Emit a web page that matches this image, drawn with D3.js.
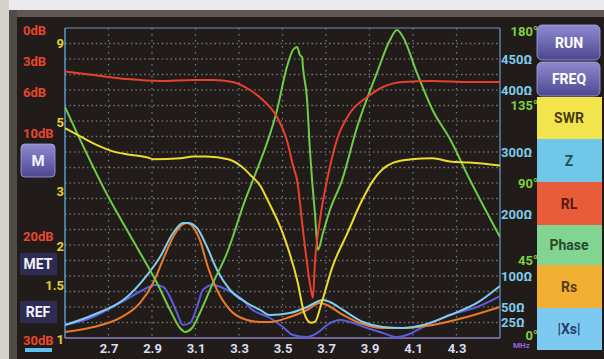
<!DOCTYPE html>
<html><head><meta charset="utf-8">
<script src="https://cdn.jsdelivr.net/npm/d3@7"></script>
<style>body{margin:0;background:#1f1a18;overflow:hidden}svg{display:block}text{font-family:Roboto,"DejaVu Sans",sans-serif}</style>
</head><body><svg id="c" width="604" height="359"></svg>
<script>
// ---------- data (MHz and values) ----------
const xTicks = [2.7, 2.9, 3.1, 3.3, 3.5, 3.7, 3.9, 4.1, 4.3];
const rlTicks = [0, 3, 6, 10, 20, 30];
const swrTicks = [9, 5, 3, 2, 1.5, 1];
const ohmTicks = [450, 400, 300, 200, 100, 50, 25];
const phaseTicks = [180, 135, 90, 45, 0];
const rightButtons = ["RUN", "FREQ", "SWR", "Z", "RL", "Phase", "Rs", "|Xs|"];
const leftLabels = ["MET", "REF"];

const swrFreq = [2.50,2.57,2.66,2.72,2.79,2.88,2.91,3.03,3.09,3.15,3.25,3.31,3.35,3.40,3.43,3.50,3.57,3.60,3.63,3.65,3.68,3.73,3.80,3.86,3.92,3.96,4.01,4.09,4.19,4.27,4.36,4.50];
const swrVal  = [4.75,4.47,4.15,4.00,3.91,3.82,3.77,3.80,3.85,3.85,3.77,3.58,3.37,3.08,2.80,2.19,1.51,1.20,1.12,1.13,1.30,1.70,2.19,2.73,3.25,3.50,3.68,3.77,3.80,3.71,3.68,3.60];

const rlFreq = [2.50,2.63,2.785,2.937,3.089,3.18,3.27,3.35,3.41,3.475,3.52,3.55,3.567,3.594,3.617,3.631,3.640,3.649,3.672,3.705,3.75,3.81,3.89,3.962,4.054,4.19,4.36,4.50];
const rlVal  = [4.2,4.55,4.94,5.13,5.03,5.03,5.23,6.0,6.97,8.62,10.84,13.46,14.71,19.55,23.43,25.36,26.1,22.75,18.59,14.71,10.84,8.23,6.68,5.71,5.23,5.13,5.23,5.23];

const phFreq = [2.50,2.707,2.785,2.859,2.923,2.983,3.029,3.052,3.084,3.12,3.18,3.245,3.328,3.364,3.475,3.52,3.548,3.567,3.58,3.59,3.594,3.613,3.626,3.636,3.649,3.663,3.686,3.718,3.774,3.843,3.934,3.994,4.026,4.054,4.118,4.19,4.27,4.362,4.50];
const phVal  = [134.1,80.1,62.7,46.4,31.9,16.3,5.8,3.5,5.8,14.5,31.9,49.4,80.1,91.7,132.4,157.3,167.2,169.0,164.3,163.1,157.3,138.2,109.2,91.7,72.6,51.1,61.0,74.3,91.7,122.5,153.9,173.0,178.8,174.8,153.9,132.4,115.5,91.7,58.6];

const rsFreq = [2.50,2.63,2.753,2.845,2.905,2.95,2.997,3.038,3.061,3.089,3.12,3.157,3.199,3.259,3.337,3.397,3.443,3.534,3.613,3.672,3.705,3.764,3.856,3.962,4.054,4.192,4.348,4.50];
const rsVal  = [9.7,17.7,32.3,56.5,88.7,125.8,162.9,182.3,185.5,179.0,158.1,114.5,77.4,45.2,29.0,25.8,25.8,33.9,45.2,56.5,53.2,40.3,24.2,16.1,16.1,21.0,33.9,50.0];

const zFreq = [2.50,2.629,2.785,2.859,2.937,2.997,3.043,3.066,3.107,3.153,3.199,3.259,3.337,3.397,3.443,3.534,3.613,3.686,3.718,3.778,3.87,3.962,4.054,4.146,4.27,4.394,4.50];
const zVal  = [21.0,37.1,66.1,93.5,130.6,169.4,185.5,185.5,177.4,146.8,109.7,77.4,56.5,45.2,37.1,40.3,50.0,61.3,58.1,45.2,25.8,17.7,16.1,21.0,37.1,56.5,83.9];

const xsFreq = [2.50,2.629,2.753,2.859,2.914,2.951,2.983,3.015,3.043,3.075,3.107,3.134,3.18,3.245,3.318,3.351,3.443,3.502,3.548,3.613,3.659,3.705,3.764,3.81,3.889,3.962,4.026,4.072,4.146,4.27,4.394,4.50];
const xsVal  = [21.0,33.9,56.5,77.4,85.5,82.3,66.1,40.3,21.0,24.2,50.0,77.4,85.5,77.4,61.3,48.4,32.3,17.7,4.8,1.6,8.1,21.0,29.0,25.8,16.1,8.1,1.6,4.8,17.7,37.1,50.0,67.7];

// ---------- layout ----------
const L = 65, R = 500, T = 28, B = 338;
const svg = d3.select("#c");
const x = d3.scaleLinear([2.5, 4.5], [L, R]);
const ySwr = d3.scaleLog([1, 10], [B, T]);
const yRl = d3.scaleLinear([0, 30], [T, B]);
const yOhm = d3.scaleLinear([0, 500], [B, T]);
const yPh = d3.scaleLinear([0, 180], [B, T]);

const defs = svg.append("defs");
const gp = defs.append("linearGradient").attr("id", "btn").attr("x1", 0).attr("y1", 0).attr("x2", 0).attr("y2", 1);
gp.append("stop").attr("offset", "0%").attr("stop-color", "#8f8ad0");
gp.append("stop").attr("offset", "100%").attr("stop-color", "#4d4790");
defs.append("clipPath").attr("id", "plot").append("rect").attr("x", L).attr("y", T - 2).attr("width", R - L).attr("height", B - T + 3);

// frame
svg.append("rect").attr("width", 604).attr("height", 359).attr("fill", "#211c1a");
svg.append("rect").attr("x", 0).attr("y", 0).attr("width", 604).attr("height", 10).attr("fill", "#ebebed");
svg.append("rect").attr("x", 0).attr("y", 0).attr("width", 9).attr("height", 359).attr("fill", "#d6d2ce");
svg.append("rect").attr("x", 9).attr("y", 10).attr("width", 595).attr("height", 7).attr("fill", "#5e5854");
svg.append("rect").attr("x", 9).attr("y", 10).attr("width", 8).attr("height", 349).attr("fill", "#514b47");

// grid
const gGrid = svg.append("g");
d3.range(1, 20).forEach((k, i) => {
  const yy = yRl(k * 1.5);
  gGrid.append("line").attr("x1", L).attr("x2", R).attr("y1", yy).attr("y2", yy)
    .attr("stroke", i % 2 ? "#8a6448" : "#8a8048").attr("stroke-width", 1.3).attr("stroke-dasharray", "1.5,7.3");
  gGrid.append("line").attr("x1", L).attr("x2", R).attr("y1", yy).attr("y2", yy)
    .attr("stroke", "#5f7088").attr("stroke-width", 1.3).attr("stroke-dasharray", "1.5,7.3").attr("stroke-dashoffset", -4.4);
});
xTicks.forEach(t => {
  gGrid.append("line").attr("x1", x(t)).attr("x2", x(t)).attr("y1", T).attr("y2", B)
    .attr("stroke", "#6a7a92").attr("stroke-width", 1.3).attr("stroke-dasharray", "1.5,4.5");
});

// border
svg.append("line").attr("x1", L).attr("x2", R).attr("y1", T).attr("y2", T).attr("stroke", "#6f8fb8").attr("stroke-width", 1.2);
svg.append("line").attr("x1", L).attr("x2", L).attr("y1", T).attr("y2", B).attr("stroke", "#5aa2d8").attr("stroke-width", 1.4);
svg.append("line").attr("x1", R).attr("x2", R).attr("y1", T).attr("y2", B).attr("stroke", "#6a9cc8").attr("stroke-width", 1.2);
svg.append("line").attr("x1", L).attr("x2", R).attr("y1", B).attr("y2", B).attr("stroke", "#8a82c4").attr("stroke-width", 1.4);

// curves
const gC = svg.append("g").attr("clip-path", "url(#plot)");
function curve(fs, vs, ys, color) {
  const pts = fs.map((f, i) => [f, vs[i]]);
  gC.append("path").datum(pts)
    .attr("d", d3.line().x(d => x(d[0])).y(d => ys(d[1])).curve(d3.curveMonotoneX))
    .attr("fill", "none").attr("stroke", color).attr("stroke-width", 2).attr("stroke-linejoin", "round");
}
curve(xsFreq, xsVal, yOhm, "#5a5ce0");
curve(rsFreq, rsVal, yOhm, "#ea7a2a");
curve(zFreq, zVal, yOhm, "#80cdef");
curve(phFreq, phVal, yPh, "#6fcb48");
curve(rlFreq, rlVal, yRl, "#e8402c");
curve(swrFreq, swrVal, ySwr, "#ecdc2e");

// axes
const fnt = (g, size, color) => g.selectAll("text").attr("font-size", size).attr("font-weight", "bold").attr("fill", color);
const xa = svg.append("g").attr("transform", `translate(0,${B})`)
  .call(d3.axisBottom(x).tickValues(xTicks).tickSize(0).tickPadding(6).tickFormat(d3.format(".1f")));
xa.select(".domain").remove(); fnt(xa, 13, "#d9ddf0");

const ra = svg.append("g").attr("transform", "translate(23,2)")
  .call(d3.axisLeft(yRl).tickValues(rlTicks).tickSize(0).tickPadding(0).tickFormat(d => d + "dB"));
ra.select(".domain").remove(); fnt(ra, 13, "#e8462e"); ra.selectAll("text").attr("text-anchor", "start").attr("x", 0);

const sa = svg.append("g").attr("transform", "translate(64,1.5)")
  .call(d3.axisLeft(ySwr).tickValues(swrTicks).tickSize(0).tickPadding(0).tickFormat(d => d));
sa.select(".domain").remove(); fnt(sa, 13, "#e6d032");

const oa = svg.append("g").attr("transform", `translate(${R + 1},0)`)
  .call(d3.axisRight(yOhm).tickValues(ohmTicks).tickSize(0).tickPadding(0).tickFormat(d => d + "Ω"));
oa.select(".domain").remove(); fnt(oa, 13, "#7ecbea");

const pa = svg.append("g").attr("transform", "translate(538,0)")
  .call(d3.axisLeft(yPh).tickValues(phaseTicks).tickSize(0).tickPadding(0).tickFormat(d => d + "°"));
pa.select(".domain").remove(); fnt(pa, 13, "#7fd040");
pa.selectAll(".tick").filter(d => d === 180).select("text").attr("dy", "0.6em");
pa.selectAll(".tick").filter(d => d === 0).select("text").attr("dy", "0.1em");

svg.append("text").attr("x", 513).attr("y", 348).attr("font-size", 8).attr("font-weight", "bold").attr("fill", "#a060e0").text("MHz");

// left buttons
svg.append("rect").attr("x", 21).attr("y", 144).attr("width", 34).attr("height", 33).attr("rx", 4).attr("fill", "url(#btn)").attr("stroke", "#a8a4e0").attr("stroke-width", 0.8);
svg.append("text").attr("x", 38).attr("y", 166).attr("text-anchor", "middle").attr("font-size", 15).attr("font-weight", "bold").attr("fill", "#f4f2ff").text("M");
leftLabels.forEach((t, i) => {
  const cy = i === 0 ? 264 : 312;
  svg.append("rect").attr("x", 20).attr("y", cy - 11).attr("width", 37).attr("height", 22).attr("fill", "#2e2c52");
  svg.append("text").attr("x", 38).attr("y", cy + 5).attr("text-anchor", "middle").attr("font-size", 14).attr("font-weight", "bold").attr("fill", "#f2f2ff").text(t);
});
svg.append("rect").attr("x", 25).attr("y", 348).attr("width", 27).attr("height", 4).attr("fill", "#5cc0f0");

// right buttons
const btnTops = [24, 61, 97, 139, 182, 225, 265, 308, 350];
const btnFill = ["url(#btn)", "url(#btn)", "#f2e44c", "#70c8e8", "#e85c3a", "#82d492", "#f2b032", "#7ccaf2"];
const btnText = ["#ffffff", "#ffffff", "#4a3c12", "#2c4a62", "#5a1a10", "#2a4a2c", "#5a3a10", "#2c3c6c"];
rightButtons.forEach((t, i) => {
  const y0 = btnTops[i], h = btnTops[i + 1] - y0;
  const purple = i < 2;
  svg.append("rect").attr("x", 537).attr("y", y0 + (purple ? 1 : 0)).attr("width", purple ? 63 : 65).attr("height", h - (purple ? 2 : 0))
    .attr("rx", purple ? 5 : 0).attr("fill", btnFill[i]).attr("stroke", purple ? "#a9a4dc" : "none").attr("stroke-width", 0.8);
  svg.append("text").attr("x", 569).attr("y", y0 + h / 2 + 5).attr("text-anchor", "middle")
    .attr("font-size", 14).attr("font-weight", "bold").attr("fill", btnText[i]).text(t);
});
</script></body></html>
